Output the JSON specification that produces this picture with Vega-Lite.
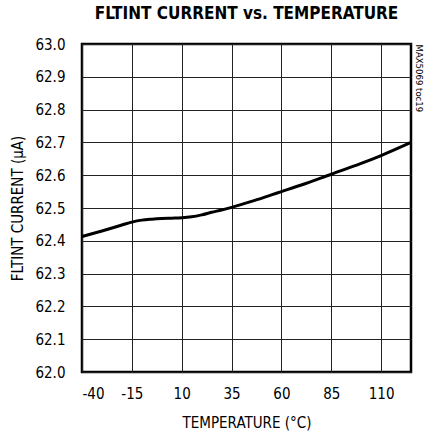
{
  "$schema": "https://vega.github.io/schema/vega-lite/v6.json",
  "autosize": "none",
  "padding": {"left": 82, "top": 44, "right": 13, "bottom": 60},
  "width": 329,
  "height": 328,
  "background": "white",
  "config": {
    "font": "DejaVu Sans Condensed, sans-serif",
    "view": {"stroke": "black", "strokeWidth": 2.5},
    "axis": {"labelFont": "DejaVu Sans Condensed, sans-serif", "titleFont": "DejaVu Sans Condensed, sans-serif", "labelColor": "black", "titleColor": "black", "labelFontSize": 15, "titleFontSize": 15, "titleFontWeight": "normal", "ticks": false, "domain": false, "gridColor": "#222", "gridOpacity": 1, "gridWidth": 1}
  },
  "title": {"text": "FLTINT CURRENT vs. TEMPERATURE", "font": "DejaVu Sans Condensed, sans-serif", "fontSize": 17, "fontWeight": "bold", "color": "black", "anchor": "middle", "offset": 14},
  "data": {"values": [
    {"t": -40, "i": 62.413},
    {"t": -30, "i": 62.43},
    {"t": -20, "i": 62.448},
    {"t": -15, "i": 62.457},
    {"t": -10, "i": 62.463},
    {"t": -5, "i": 62.466},
    {"t": 0, "i": 62.468},
    {"t": 5, "i": 62.469},
    {"t": 10, "i": 62.47},
    {"t": 15, "i": 62.473},
    {"t": 20, "i": 62.479},
    {"t": 25, "i": 62.487},
    {"t": 30, "i": 62.494},
    {"t": 35, "i": 62.502},
    {"t": 45, "i": 62.52},
    {"t": 55, "i": 62.54},
    {"t": 60, "i": 62.55},
    {"t": 70, "i": 62.57},
    {"t": 85, "i": 62.603},
    {"t": 100, "i": 62.636},
    {"t": 110, "i": 62.66},
    {"t": 125, "i": 62.7}
  ]},
  "layer": [
    {
      "mark": {"type": "line", "color": "black", "strokeWidth": 3, "interpolate": "monotone"},
      "encoding": {
        "x": {"field": "t", "type": "quantitative", "scale": {"domain": [-40, 125], "nice": false, "zero": false}, "axis": {"values": [-40, -15, 10, 35, 60, 85, 110], "labelExpr": "replace(datum.label, '−', '-')", "title": "TEMPERATURE (°C)", "labelPadding": 14, "titlePadding": 14, "grid": true}},
        "y": {"field": "i", "type": "quantitative", "scale": {"domain": [62, 63], "nice": false, "zero": false}, "axis": {"values": [62, 62.1, 62.2, 62.3, 62.4, 62.5, 62.6, 62.7, 62.8, 62.9, 63], "format": ".1f", "title": "FLTINT CURRENT (µA)", "labelPadding": 17, "titlePadding": 9, "grid": true}}
      }
    },
    {
      "mark": {"type": "line", "opacity": 0},
      "encoding": {
        "x": {"field": "t", "type": "quantitative"},
        "y": {"field": "i", "type": "quantitative", "axis": {"orient": "right", "grid": false, "labels": false, "title": "MAX5069 toc19", "titleFontSize": 9.5, "titleAngle": 90, "titleAnchor": "end", "titleAlign": "left", "titlePadding": 2}}
      }
    }
  ],
  "resolve": {"axis": {"y": "independent"}}
}
